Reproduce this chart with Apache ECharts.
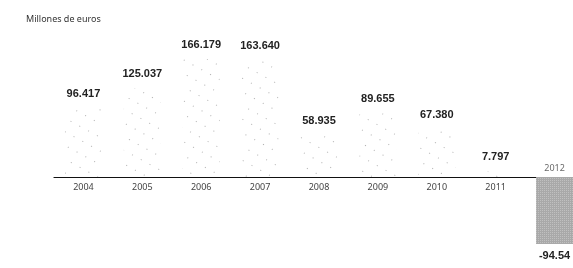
<!DOCTYPE html>
<html>
<head>
<meta charset="utf-8">
<script src="https://cdn.jsdelivr.net/npm/echarts@6/dist/echarts.min.js"></script>
<style>
  html, body { margin: 0; padding: 0; background: #fff; }
  #chart { width: 573px; height: 268px; }
</style>
</head>
<body>
<div id="chart"></div>
<script>
  var years = ['2004', '2005', '2006', '2007', '2008', '2009', '2010', '2011', '2012'];
  var values = [96.417, 125.037, 166.179, 163.640, 58.935, 89.655, 67.380, 7.797, -94.54];
  var valueLabels = ['96.417', '125.037', '166.179', '163.640', '58.935', '89.655', '67.380', '7.797', '-94.54'];
  var unitText = 'Millones de euros';

  var chart = echarts.init(document.getElementById('chart'));

  // barras claras con puntos sueltos, la negativa gris punteada
  var lightDecal = {
    symbol: 'rect',
    symbolSize: 1,
    dashArrayX: [1, 9],
    dashArrayY: [1, 11],
    rotation: 0.5,
    color: 'rgba(60,60,60,0.4)'
  };
  var darkDecal = {
    symbol: 'circle',
    symbolSize: 0.9,
    dashArrayX: [1, 1],
    dashArrayY: [1, 1],
    color: 'rgba(255,255,255,0.55)'
  };

  var barData = values.map(function (v, i) {
    var neg = v < 0;
    return {
      value: v,
      itemStyle: {
        color: neg ? '#a9a9a9' : '#ffffff',
        decal: neg ? darkDecal : lightDecal
      },
      label: {
        position: neg ? 'bottom' : 'top',
        distance: neg ? 6 : 9,
        formatter: valueLabels[i]
      }
    };
  });

  // el año de la barra negativa va encima del eje
  var yearAbove = values.map(function (v) { return v < 0 ? 0 : '-'; });

  var option = {
    animation: false,
    aria: { enabled: true, decal: { show: true } },
    title: {
      text: unitText,
      left: 21,
      top: 10,
      textStyle: { fontFamily: 'Noto Sans', fontSize: 9, fontWeight: 'normal', color: '#333' }
    },
    grid: { left: 54, top: 35, width: 530, height: 142, outerBoundsMode: 'none' },
    xAxis: {
      type: 'category',
      data: years,
      axisLine: { lineStyle: { color: '#111', width: 1.2 } },
      axisTick: { show: false },
      axisLabel: {
        margin: 6,
        fontFamily: 'Noto Sans',
        fontSize: 9,
        color: '#444',
        formatter: function (y, i) { return values[i] < 0 ? '' : y; }
      }
    },
    yAxis: {
      type: 'value',
      min: 0,
      max: 200,
      show: false,
      splitLine: { show: false }
    },
    series: [{
      type: 'bar',
      data: barData,
      barWidth: 37,
      clip: false,
      label: {
        show: true,
        fontFamily: 'Liberation Sans',
        fontWeight: 'bold',
        fontSize: 11,
        color: '#222'
      }
    }, {
      type: 'scatter',
      data: yearAbove,
      symbolSize: 0,
      clip: false,
      silent: true,
      label: {
        show: true,
        position: 'top',
        distance: 4,
        fontFamily: 'Noto Sans',
        fontSize: 9,
        color: '#444',
        formatter: function (p) { return years[p.dataIndex]; }
      }
    }]
  };

  chart.setOption(option);
</script>
</body>
</html>
